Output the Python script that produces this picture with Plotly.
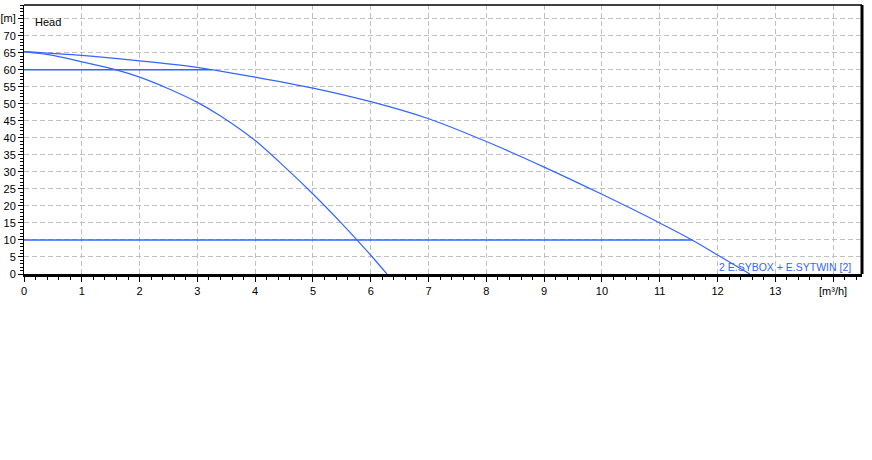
import plotly.graph_objects as go

# Data
single_q = [0.0, 0.5, 1.0, 1.58, 2.0, 2.5, 3.0, 3.4, 4.0, 4.5, 5.0, 5.5, 5.76, 6.0, 6.28]
single_h = [65.3, 64.2, 62.3, 60.0, 57.8, 54.4, 50.4, 46.4, 39.2, 31.6, 23.5, 14.8, 10.0, 5.5, 0.0]

twin_q = [0.0, 1.0, 2.0, 3.0, 3.25, 4.0, 5.0, 6.0, 7.0, 8.0, 9.0, 10.0, 11.0, 11.56, 12.0, 12.56]
twin_h = [65.3, 64.2, 62.6, 60.7, 60.0, 57.8, 54.6, 50.6, 45.6, 38.9, 31.4, 23.4, 15.0, 10.0, 5.6, 0.0]

limit_hi_q = [0.0, 3.25]
limit_hi_h = [60.0, 60.0]
limit_lo_q = [0.0, 11.56]
limit_lo_h = [10.0, 10.0]

x_ticks = list(range(0, 15))
x_labels = [str(v) for v in range(0, 14)] + ["[m³/h]"]
y_ticks = list(range(0, 80, 5))
y_labels = [str(v) for v in range(0, 75, 5)] + ["[m]"]

series_name = "2 E.SYBOX + E.SYTWIN [2]"
axis_title_head = "Head"

BLUE = "#3366FF"
FONT = "Liberation Sans, Arial, sans-serif"

fig = go.Figure()
for q, h, w, shp in [(limit_hi_q, limit_hi_h, 1.5, "linear"), (limit_lo_q, limit_lo_h, 1.5, "linear"),
                     (single_q, single_h, 1.2, "spline"), (twin_q, twin_h, 1.2, "spline")]:
    fig.add_trace(go.Scatter(x=q, y=h, mode="lines",
                             line=dict(color=BLUE, width=w, shape=shp, smoothing=0.8),
                             showlegend=False, hoverinfo="skip"))

fig.update_layout(
    width=872, height=460,
    margin=dict(l=24, r=10, t=5, b=186),
    paper_bgcolor="white", plot_bgcolor="white",
    font=dict(family=FONT, size=11, color="black"),
    xaxis=dict(range=[0, 14.5], tickmode="array", tickvals=x_ticks, ticktext=x_labels,
               automargin=False,
               showgrid=True, gridcolor="#c0c0c0", griddash="5px,3px", gridwidth=1,
               zeroline=False, showline=True, linecolor="black", linewidth=3,
               ticks="outside", ticklen=5, tickcolor="black", tickwidth=1,
               minor=dict(tickmode="linear", tick0=0, dtick=0.2, ticks="outside",
                          ticklen=3, tickcolor="black", showgrid=False),
               tickfont=dict(family=FONT, size=11, color="black"), fixedrange=True),
    yaxis=dict(range=[0, 79], tickmode="array", tickvals=y_ticks, ticktext=y_labels,
               automargin=False,
               showgrid=True, gridcolor="#c0c0c0", griddash="5px,3px", gridwidth=1,
               zeroline=False, showline=True, linecolor="black", linewidth=1,
               ticks="outside", ticklen=5, tickcolor="black", tickwidth=1,
               minor=dict(tickmode="linear", tick0=0, dtick=1, ticks="outside",
                          ticklen=3, tickcolor="black", showgrid=False),
               tickfont=dict(family=FONT, size=11, color="black"), fixedrange=True),
    shapes=[
        dict(type="line", xref="paper", yref="paper", x0=0, x1=1, y0=1, y1=1,
             line=dict(color="black", width=1.5)),
        dict(type="line", xref="paper", yref="paper", x0=1, x1=1, y0=0, y1=1,
             line=dict(color="black", width=3)),
    ],
    annotations=[
        dict(text=axis_title_head, xref="paper", yref="y", x=9 / 838, y=74.0,
             xanchor="left", yanchor="middle", showarrow=False,
             font=dict(family=FONT, size=11, color="black")),
        dict(text=series_name, xref="x", yref="y", x=14.34, y=2.2,
             xanchor="right", yanchor="middle", showarrow=False,
             font=dict(family=FONT, size=10.5, color=BLUE)),
    ],
)

fig.write_html("out.html", config={"displayModeBar": False},
               post_script="document.body.style.margin='0px';")
